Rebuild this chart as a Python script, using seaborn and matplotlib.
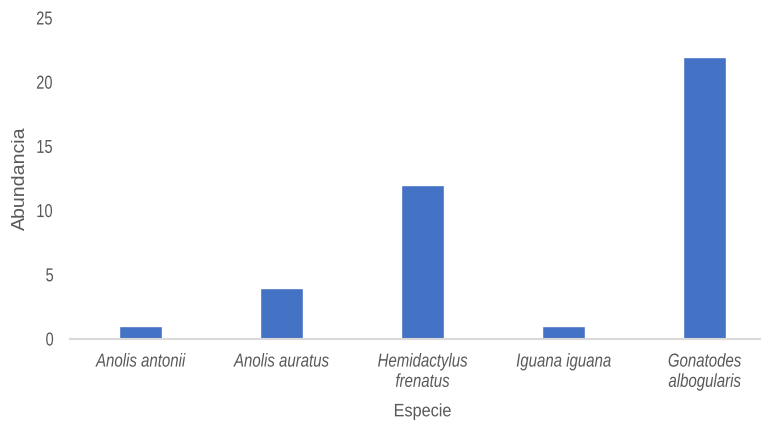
import matplotlib
matplotlib.use("Agg")
import matplotlib.pyplot as plt
import seaborn as sns
import pandas as pd
from matplotlib.patheffects import AbstractPathEffect
from matplotlib.transforms import Affine2D

especies = ["Anolis antonii", "Anolis auratus", "Hemidactylus\nfrenatus",
            "Iguana iguana", "Gonatodes\nalbogularis"]
abundancia = [1, 4, 12, 1, 22]
yticks = [0, 5, 10, 15, 20, 25]


class Condensed(AbstractPathEffect):
    """Draw text glyphs narrowed horizontally about each line's centre."""

    def __init__(self, sx):
        super().__init__()
        self.sx = sx

    def draw_path(self, renderer, gc, tpath, affine, rgbFace=None):
        v = tpath.vertices
        cx = (v[:, 0].min() + v[:, 0].max()) / 2 if len(v) else 0.0
        squeeze = Affine2D().translate(-cx, 0).scale(self.sx, 1).translate(cx, 0)
        renderer.draw_path(gc, tpath, squeeze + affine, rgbFace)


df = pd.DataFrame({"Especie": especies, "Abundancia": abundancia})

sns.set_style("white")
plt.rcParams["font.family"] = ["Liberation Sans", "DejaVu Sans"]

W, H = 761, 423
fig = plt.figure(figsize=(W / 100, H / 100), dpi=100)
ax = fig.add_axes([70 / W, (H - 339) / H, 705 / W, 321 / H])

sns.barplot(data=df, x="Especie", y="Abundancia", color="#4472C4",
            width=0.305, saturation=1, ax=ax)

ax.set_ylim(0, 25)
ax.set_yticks(yticks)
ax.set_xlim(-0.5, len(especies) - 0.5)

grey = "#595959"
ax.tick_params(axis="both", length=0, colors=grey, labelsize=13.5)
ax.tick_params(axis="y", pad=10.8)
ax.tick_params(axis="x", pad=10.5)
for lbl in ax.get_xticklabels():
    lbl.set_fontstyle("italic")
    lbl.set_linespacing(1.25)
    lbl.set_path_effects([Condensed(0.8)])
for lbl in ax.get_yticklabels():
    lbl.set_path_effects([Condensed(0.78)])

for side in ["top", "right", "left"]:
    ax.spines[side].set_visible(False)
ax.spines["bottom"].set_color("#d9d9d9")
ax.spines["bottom"].set_linewidth(1.5)

ax.set_xlabel("Especie", color=grey, fontsize=13, labelpad=9)
ax.xaxis.label.set_path_effects([Condensed(0.9)])
ax.set_ylabel("Abundancia", color=grey, fontsize=14)
ax.yaxis.set_label_coords(-(70 - 29) / 705, 0.5)

fig.savefig("out.png", dpi=100)
